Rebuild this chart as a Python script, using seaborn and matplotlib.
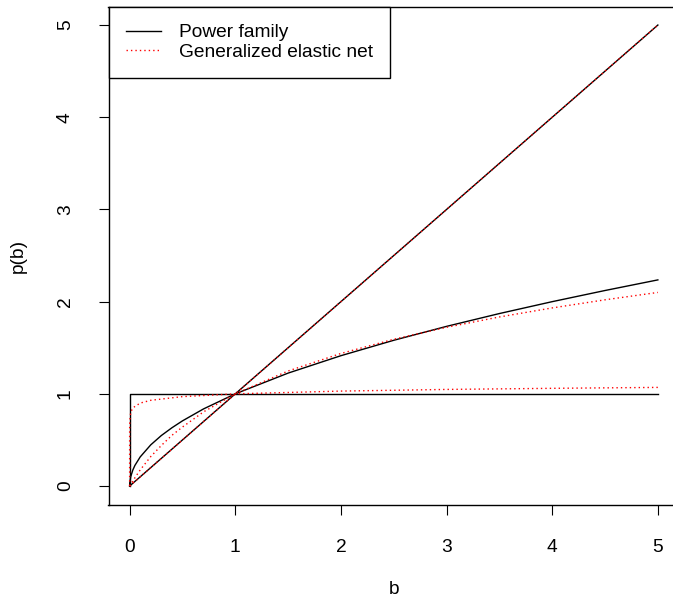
import matplotlib
matplotlib.use("Agg")
import matplotlib.pyplot as plt
from matplotlib.lines import Line2D
import seaborn as sns

plt.rcParams['font.family'] = ['Liberation Sans', 'DejaVu Sans']

# ---- data ----
# Power family, q = 0 (step), q = 0.5, q = 1
pow0_b = [0.0, 0.0, 5.0]
pow0_p = [0.0, 1.0, 1.0]
pow05_b = [0.0, 0.001, 0.01, 0.03, 0.05, 0.1, 0.2, 0.3, 0.4, 0.5, 0.7, 1.0, 1.5, 2.0, 2.5, 3.0, 3.5, 4.0, 4.5, 5.0]
pow05_p = [0.0, 0.032, 0.10, 0.173, 0.224, 0.316, 0.447, 0.548, 0.632, 0.707, 0.837, 1.0, 1.225, 1.414, 1.581, 1.732, 1.871, 2.0, 2.121, 2.236]
pow1_b = [0.0, 5.0]
pow1_p = [0.0, 5.0]

# Generalized elastic net approximations
gen0_b = [0.0, 0.0001, 0.001, 0.01, 0.03, 0.1, 0.2, 0.5, 1.0, 2.0, 3.0, 4.0, 5.0]
gen0_p = [0.0, 0.60, 0.70, 0.80, 0.848, 0.90, 0.93, 0.97, 1.0, 1.03, 1.048, 1.06, 1.07]
gen05_b = [0.0, 0.05, 0.1, 0.2, 0.3, 0.4, 0.5, 0.7, 1.0, 1.5, 2.0, 2.5, 3.0, 3.5, 4.0, 4.5, 5.0]
gen05_p = [0.0, 0.09, 0.175, 0.32, 0.44, 0.55, 0.64, 0.805, 1.0, 1.248, 1.438, 1.592, 1.722, 1.834, 1.932, 2.02, 2.10]
gen1_b = [0.0, 5.0]
gen1_p = [0.0, 5.0]

legend_labels = ["Power family", "Generalized elastic net"]
x_ticks = [0, 1, 2, 3, 4, 5]
y_ticks = [0, 1, 2, 3, 4, 5]

W, H = 673, 598
fig = plt.figure(figsize=(W / 100, H / 100), dpi=100)
left, right, top, bottom = 108.5, 679.0, 6.6, 504.5
ax = fig.add_axes([left / W, 1 - bottom / H, (right - left) / W, (bottom - top) / H])

FS = 13.8
dot = (0, (1, 2.2))

for bx, py in [(pow0_b, pow0_p), (pow05_b, pow05_p), (pow1_b, pow1_p)]:
    sns.lineplot(x=bx, y=py, ax=ax, color="black", linewidth=1.0,
                 estimator=None, sort=False)
for bx, py in [(gen0_b, gen0_p), (gen05_b, gen05_p), (gen1_b, gen1_p)]:
    sns.lineplot(x=bx, y=py, ax=ax, color="red", linewidth=1.0,
                 linestyle=dot, estimator=None, sort=False)

ax.set_xlim(-0.2, 5.2)
ax.set_ylim(-0.2, 5.2)
ax.set_xticks(x_ticks)
ax.set_yticks(y_ticks)
ax.set_xticklabels([str(t) for t in x_ticks])
ax.set_yticklabels([str(t) for t in y_ticks], rotation=90, va='center')
ax.tick_params(axis='both', direction='out', length=7.5, width=0.8,
               labelsize=FS, pad=17.5, color='black')
for s in ax.spines.values():
    s.set_linewidth(1.0)
    s.set_color('black')
ax.spines['right'].set_visible(False)

ax.set_xlabel("b", fontsize=FS, va='center')
ax.xaxis.set_label_coords(0.5, (bottom - 590) / (bottom - top))
ax.set_ylabel("p(b)", fontsize=FS, va='center', rotation=90)
ax.yaxis.set_label_coords((18 - left) / (right - left), 0.5)

handles = [Line2D([], [], color='black', linewidth=1.0),
           Line2D([], [], color='red', linewidth=1.0, linestyle=dot)]
leg = ax.legend(handles, legend_labels, loc='upper left', bbox_to_anchor=(0, 1),
                borderaxespad=0, fancybox=False, framealpha=1, edgecolor='black',
                fontsize=FS, handlelength=1.85, handletextpad=0.93,
                borderpad=0.9, labelspacing=0.12)
leg.get_frame().set_linewidth(1.0)

fig.savefig("out.png", dpi=100)
